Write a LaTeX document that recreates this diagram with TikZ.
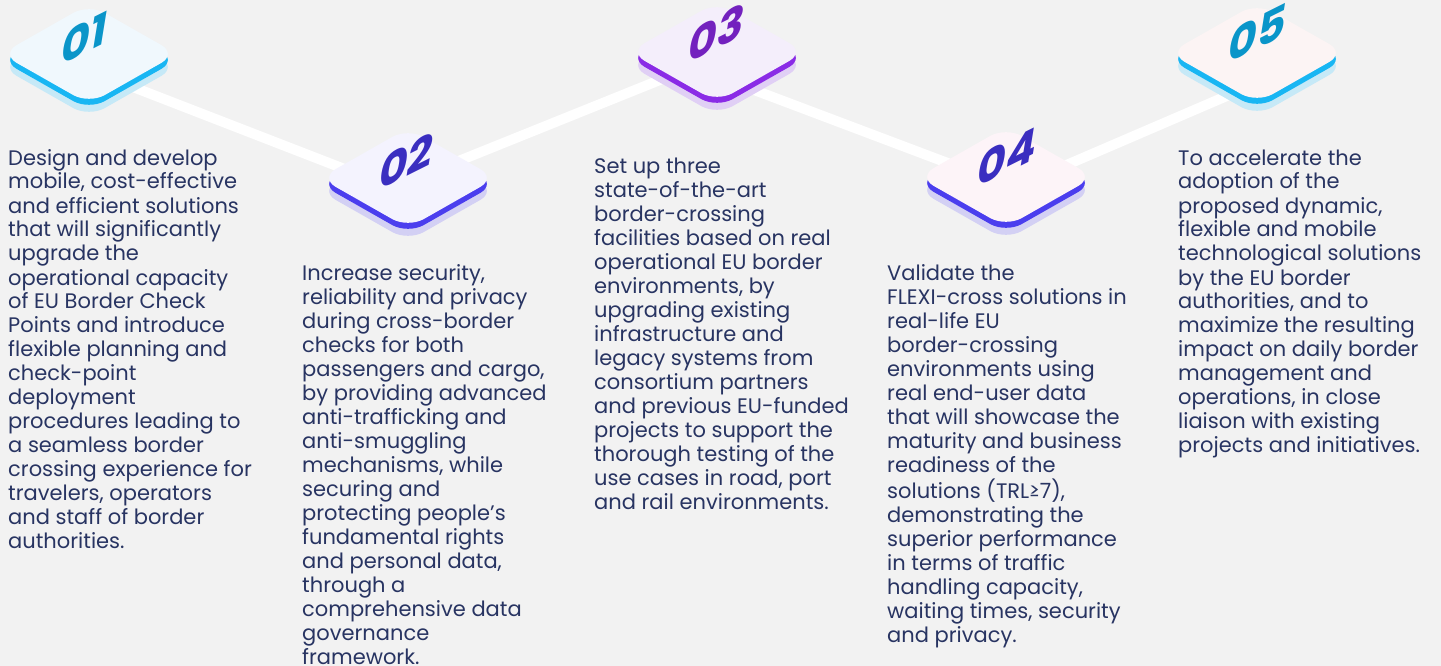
\documentclass[tikz,border=0pt]{standalone}
\usepackage{fontspec}
\setmainfont{Poppins}
\usetikzlibrary{shapes.geometric}
\definecolor{bg}{HTML}{F2F2F2}
\definecolor{txt}{HTML}{283462}
\definecolor{faceA}{HTML}{F0F8FD}
\definecolor{faceB}{HTML}{F4F3FE}
\definecolor{faceC}{HTML}{F4EEFB}
\definecolor{faceD}{HTML}{FDF4F8}
\definecolor{faceE}{HTML}{FCF4F4}
\definecolor{edgeBlue}{HTML}{18B6F3}
\definecolor{shBlue}{HTML}{C6E9F7}
\definecolor{edgeInd}{HTML}{4B3EEE}
\definecolor{shInd}{HTML}{D3D0F4}
\definecolor{edgePur}{HTML}{8A2BE6}
\definecolor{shPur}{HTML}{E0CFF5}
\definecolor{numBlue}{HTML}{0A95C9}
\definecolor{numInd}{HTML}{3A2EC0}
\definecolor{numPur}{HTML}{7321BE}
\begin{document}
\begin{tikzpicture}[x=1pt,y=-1pt,
  rh/.style={diamond, minimum width=176pt, minimum height=100pt, inner sep=0pt, outer sep=0pt, rounded corners=18pt, draw=none},
  body/.style={anchor=base west, inner sep=0pt, text=txt, font=\fontsize{21}{24}\selectfont},
  num/.style={inner sep=0pt, font=\fontsize{44}{44}\selectfont\bfseries\itshape, yslant=0.5},
  link/.style={draw=white, line width=10pt}]
\useasboundingbox (0,0) rectangle (1441,666);
\fill[bg] (0,0) rectangle (1441,666);

% connector anchor points
\coordinate (l1a) at (89,70);
\coordinate (l1b) at (409,194);
\coordinate (l2a) at (409,181);
\coordinate (l2b) at (717,57);
\coordinate (l3a) at (717,76);
\coordinate (l3b) at (1006,185);
\coordinate (l4a) at (1006,191);
\coordinate (l4b) at (1257,83);
\draw[link] (l1a) -- (l1b);
\draw[link] (l2a) -- (l2b);
\draw[link] (l3a) -- (l3b);
\draw[link] (l4a) -- (l4b);

% badges
\node[rh, fill=shBlue] (b1s) at (89,67) {};
\node[rh, fill=edgeBlue] (b1e) at (89,60) {};
\node[rh, fill=faceA] (b1) at (89,54) {};
\node[num, text=numBlue] (n1) at (84,38) {01};

\node[rh, fill=shInd] (b2s) at (408,191) {};
\node[rh, fill=edgeInd] (b2e) at (408,184) {};
\node[rh, fill=faceB] (b2) at (408,178) {};
\node[num, text=numInd] (n2) at (406,161) {02};

\node[rh, fill=shPur] (b3s) at (717,65) {};
\node[rh, fill=edgePur] (b3e) at (717,58) {};
\node[rh, fill=faceC] (b3) at (717,52) {};
\node[num, text=numPur] (n3) at (716,33) {03};

\node[rh, fill=shInd] (b4s) at (1006,190) {};
\node[rh, fill=edgeInd] (b4e) at (1006,183) {};
\node[rh, fill=faceD] (b4) at (1006,177) {};
\node[num, text=numInd] (n4) at (1007,157) {04};

\node[rh, fill=shBlue] (b5s) at (1257,66) {};
\node[rh, fill=edgeBlue] (b5e) at (1257,59) {};
\node[rh, fill=faceE] (b5) at (1257,53) {};
\node[num, text=numBlue] (n5) at (1257,33) {05};

% texts
\node[body] (t1) at (8,165) {\begin{tabular}[t]{@{}l@{}}Design and develop\\ mobile, cost-effective\\ and efficient solutions\\ that will significantly\\ upgrade the\\ operational capacity\\ of EU Border Check\\ Points and introduce\\ flexible planning and\\ check-point\\ deployment\\ procedures leading to\\ a seamless border\\ crossing experience for\\ travelers, operators\\ and staff of border\\ authorities.\end{tabular}};

\node[body] (t2) at (302,280) {\begin{tabular}[t]{@{}l@{}}Increase security,\\ reliability and privacy\\ during cross-border\\ checks for both\\ passengers and cargo,\\ by providing advanced\\ anti-trafficking and\\ anti-smuggling\\ mechanisms, while\\ securing and\\ protecting people’s\\ fundamental rights\\ and personal data,\\ through a\\ comprehensive data\\ governance\\ framework.\end{tabular}};

\node[body] (t3) at (594,174) {\begin{tabular}[t]{@{}l@{}}Set up three\\ state-of-the-art\\ border-crossing\\ facilities based on real\\ operational EU border\\ environments, by\\ upgrading existing\\ infrastructure and\\ legacy systems from\\ consortium partners\\ and previous EU-funded\\ projects to support the\\ thorough testing of the\\ use cases in road, port\\ and rail environments.\end{tabular}};

\node[body] (t4) at (887,280) {\begin{tabular}[t]{@{}l@{}}Validate the\\ FLEXI-cross solutions in\\ real-life EU\\ border-crossing\\ environments using\\ real end-user data\\ that will showcase the\\ maturity and business\\ readiness of the\\ solutions (TRL≥7),\\ demonstrating the\\ superior performance\\ in terms of traffic\\ handling capacity,\\ waiting times, security\\ and privacy.\end{tabular}};

\node[body] (t5) at (1178,165) {\begin{tabular}[t]{@{}l@{}}To accelerate the\\ adoption of the\\ proposed dynamic,\\ flexible and mobile\\ technological solutions\\ by the EU border\\ authorities, and to\\ maximize the resulting\\ impact on daily border\\ management and\\ operations, in close\\ liaison with existing\\ projects and initiatives.\end{tabular}};
\end{tikzpicture}
\end{document}
